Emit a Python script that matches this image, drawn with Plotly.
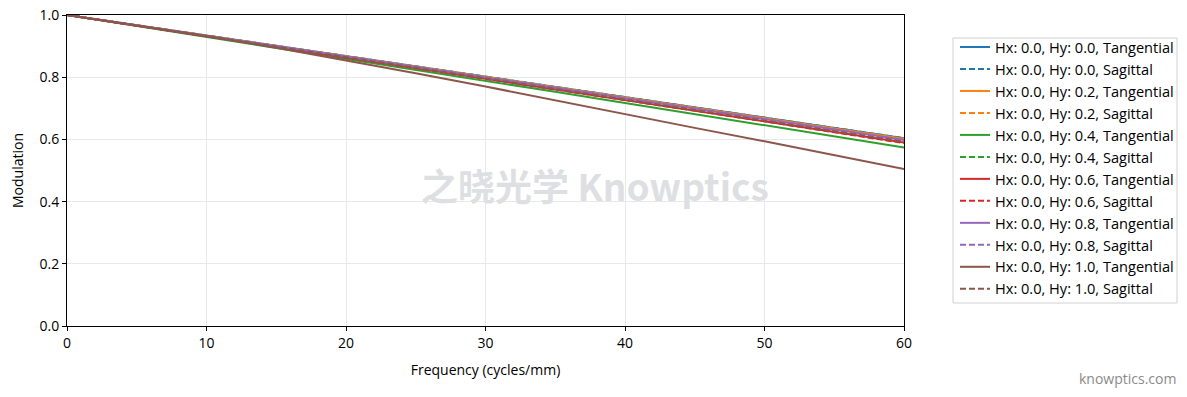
import plotly.graph_objects as go

freq = [0, 5, 10, 15, 20, 25, 30, 35, 40, 45, 50, 55, 60]

h00_t = [1.000, 0.967, 0.934, 0.901, 0.868, 0.835, 0.802, 0.769, 0.736, 0.703, 0.670, 0.637, 0.604]
h00_s = [1.000, 0.967, 0.934, 0.901, 0.868, 0.835, 0.802, 0.769, 0.736, 0.703, 0.670, 0.637, 0.604]
h02_t = [1.000, 0.967, 0.934, 0.900, 0.867, 0.834, 0.801, 0.768, 0.735, 0.702, 0.669, 0.635, 0.602]
h02_s = [1.000, 0.967, 0.933, 0.900, 0.867, 0.834, 0.800, 0.767, 0.734, 0.700, 0.667, 0.634, 0.600]
h04_t = [1.000, 0.965, 0.930, 0.895, 0.860, 0.824, 0.789, 0.753, 0.717, 0.681, 0.645, 0.610, 0.574]
h04_s = [1.000, 0.966, 0.933, 0.899, 0.866, 0.832, 0.799, 0.765, 0.732, 0.698, 0.665, 0.631, 0.597]
h06_t = [1.000, 0.966, 0.932, 0.898, 0.864, 0.830, 0.796, 0.762, 0.728, 0.694, 0.660, 0.625, 0.590]
h06_s = [1.000, 0.966, 0.932, 0.898, 0.864, 0.830, 0.795, 0.761, 0.727, 0.693, 0.658, 0.623, 0.588]
h08_t = [1.000, 0.967, 0.933, 0.900, 0.866, 0.833, 0.799, 0.766, 0.732, 0.699, 0.665, 0.632, 0.598]
h08_s = [1.000, 0.966, 0.933, 0.899, 0.866, 0.832, 0.799, 0.765, 0.731, 0.697, 0.663, 0.629, 0.595]
h10_t = [1.000, 0.967, 0.932, 0.895, 0.855, 0.813, 0.770, 0.725, 0.680, 0.637, 0.594, 0.550, 0.505]
h10_s = [1.000, 0.966, 0.932, 0.898, 0.864, 0.830, 0.796, 0.761, 0.727, 0.693, 0.659, 0.625, 0.592]

fields = ["0.0", "0.2", "0.4", "0.6", "0.8", "1.0"]
tangential = [h00_t, h02_t, h04_t, h06_t, h08_t, h10_t]
sagittal = [h00_s, h02_s, h04_s, h06_s, h08_s, h10_s]
colors = ["#1f77b4", "#ff7f0e", "#2ca02c", "#d62728", "#9467bd", "#8c564b"]

x_ticks = [0, 10, 20, 30, 40, 50, 60]
y_ticks = [0.0, 0.2, 0.4, 0.6, 0.8, 1.0]

FONT = "Open Sans"

fig = go.Figure()
for i, hy in enumerate(fields):
    fig.add_trace(go.Scatter(
        x=freq, y=tangential[i], mode="lines",
        name=f"Hx: 0.0, Hy: {hy}, Tangential",
        line=dict(color=colors[i], width=2, dash="solid"),
    ))
    fig.add_trace(go.Scatter(
        x=freq, y=sagittal[i], mode="lines",
        name=f"Hx: 0.0, Hy: {hy}, Sagittal",
        line=dict(color=colors[i], width=2, dash="6px,3px"),
    ))

axis_common = dict(
    showline=True, linecolor="black", linewidth=1, mirror=True,
    ticks="outside", ticklen=4, tickcolor="black", tickwidth=1,
    showgrid=True, gridcolor="#e8e8e8", gridwidth=1,
    zeroline=False,
    tickfont=dict(family=FONT, size=14, color="black"),
)

# plot-area fractions for placing the legend frame
def px_x(p):
    return (p - 67) / 837

def px_y(p):
    return (326 - p) / 311

fig.update_layout(
    width=1187, height=397,
    margin=dict(l=67, r=283, t=15, b=71, autoexpand=False),
    paper_bgcolor="white", plot_bgcolor="white",
    font=dict(family=FONT, size=14, color="black"),
    xaxis=dict(range=[0, 60], tickvals=x_ticks,
               title=dict(text="Frequency (cycles/mm)", font=dict(family=FONT, size=14), standoff=14),
               **axis_common),
    yaxis=dict(range=[0, 1], tickvals=y_ticks, tickformat=".1f",
               title=dict(text="Modulation", font=dict(family=FONT, size=14), standoff=12),
               **axis_common),
    legend=dict(
        x=px_x(955), y=px_y(31), xanchor="left", yanchor="top",
        bgcolor="rgba(0,0,0,0)", borderwidth=0,
        font=dict(family=FONT, size=14.6, color="black"),
        itemwidth=30,
    ),
    showlegend=True,
)

fig.add_shape(
    type="rect", xref="paper", yref="paper",
    x0=px_x(953), x1=px_x(1177), y0=px_y(303), y1=px_y(38),
    line=dict(color="#d0d0d0", width=1), fillcolor="rgba(255,255,255,0)",
    layer="below",
)

fig.add_annotation(
    text="<b>之晓光学 Knowptics</b>", xref="paper", yref="paper",
    x=px_x(595), y=px_y(185), xanchor="center", yanchor="middle",
    showarrow=False,
    font=dict(family="Noto Sans CJK SC", size=37, color="#dedfe2"),
)
fig.add_annotation(
    text="knowptics.com", xref="paper", yref="paper",
    x=px_x(1178), y=px_y(378), xanchor="right", yanchor="middle",
    showarrow=False,
    font=dict(family=FONT, size=14, color="#8a8a8a"),
)

fig.write_html("out.html")
